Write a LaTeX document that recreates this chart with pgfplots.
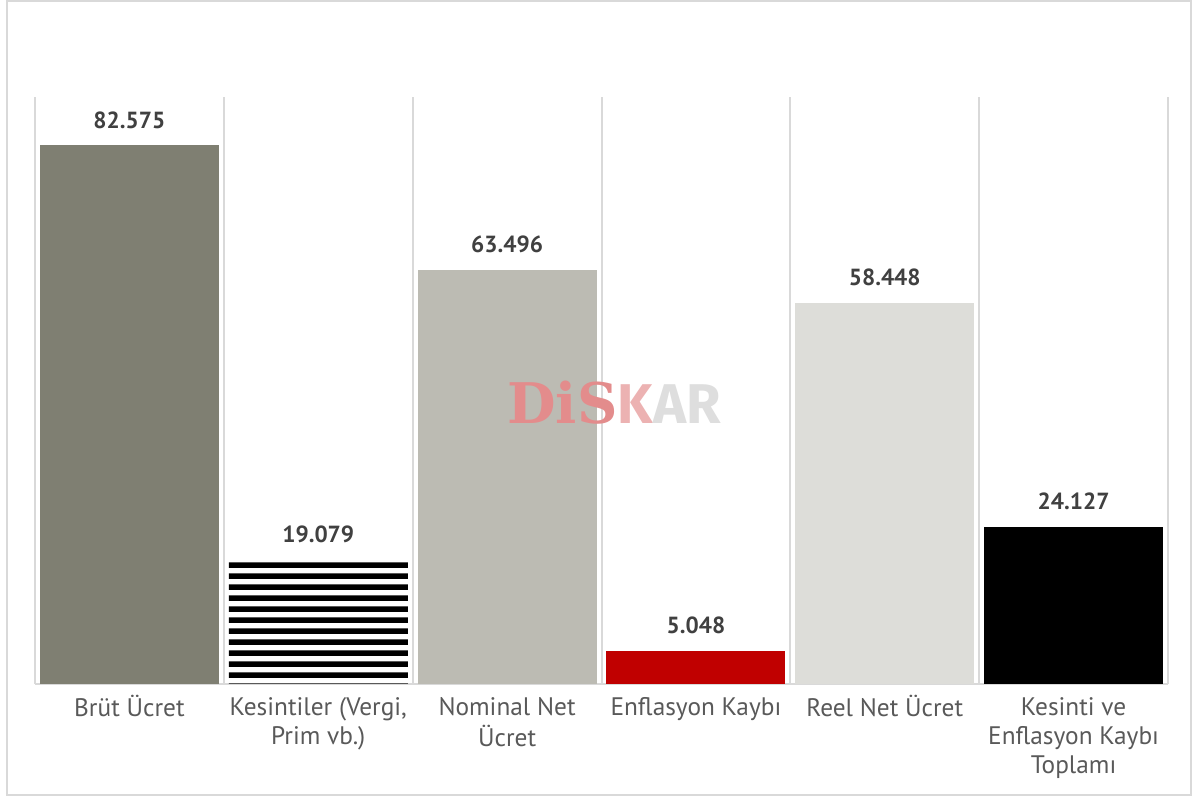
\documentclass[border=0pt]{standalone}
\usepackage{fontspec}
\setmainfont{PT Sans}
\newfontfamily\wmserif{DejaVu Serif}
\newfontfamily\wmsans{Fira Sans}
\usepackage{pgfplots}
\pgfplotsset{compat=1.18}
\usetikzlibrary{patterns}
\pgfdeclarepatternformonly{hstripes}{\pgfqpoint{0pt}{0pt}}{\pgfqpoint{400pt}{8.25pt}}{\pgfqpoint{400pt}{8.25pt}}{%
  \pgfpathrectangle{\pgfqpoint{0pt}{0pt}}{\pgfqpoint{400pt}{4.5pt}}\pgfusepath{fill}}
\definecolor{cA}{HTML}{7F7F72}
\definecolor{cC}{HTML}{BCBBB3}
\definecolor{cD}{HTML}{C00000}
\definecolor{cE}{HTML}{DDDDD9}
\definecolor{gridc}{HTML}{D9D9D9}
\definecolor{lab}{HTML}{404040}
\definecolor{xl}{HTML}{595959}
\begin{document}
\begin{tikzpicture}
\useasboundingbox (-26.25pt,-86.25pt) rectangle (870.75pt,513pt);
\draw[gridc,line width=1.5pt] (-21pt,-83.25pt) rectangle (867pt,512.25pt);
\begin{axis}[
  at={(0pt,0pt)}, anchor=south west,
  scale only axis, width=849.75pt, height=440.25pt,
  xmin=-0.5, xmax=5.5, ymin=0, ymax=90,
  axis y line=none, axis x line=bottom,
  x axis line style={-, draw=gridc, line width=1.5pt},
  xtick={0,...,5},
  xticklabels={Brüt Ücret,{Kesintiler (Vergi,\\Prim vb.)},{Nominal Net\\Ücret},Enflasyon Kaybı,Reel Net Ücret,{Kesinti ve\\Enflasyon Kaybı\\Toplamı}},
  typeset ticklabels with strut,
  xticklabel style={align=center, font=\fontsize{19}{21.75}\selectfont, text=xl, anchor=north, inner sep=0pt, yshift=-8pt},
  minor xtick={-0.5,0.5,...,5.5},
  xminorgrids=true,
  minor grid style={draw=gridc, line width=1.5pt},
  major tick length=0pt, minor tick length=0pt,
  ybar, bar width=134.25pt,
  clip=false,
  nodes near coords, point meta=explicit symbolic,
  every node near coord/.append style={font=\fontsize{17.5}{21}\selectfont\bfseries, text=lab, anchor=south, inner sep=0pt, yshift=12.5pt},
]
\addplot[bar shift=0pt, fill=cA, draw=none] coordinates {(0,82.575) [82.575]};
\addplot[bar shift=0pt, draw=none, fill=white, postaction={pattern=hstripes, pattern color=black}] coordinates {(1,19.079) [19.079]};
\addplot[bar shift=0pt, fill=cC, draw=none] coordinates {(2,63.496) [63.496]};
\addplot[bar shift=0pt, fill=cD, draw=none] coordinates {(3,5.048) [5.048]};
\addplot[bar shift=0pt, fill=cE, draw=none] coordinates {(4,58.448) [58.448]};
\addplot[bar shift=0pt, fill=black, draw=none] coordinates {(5,24.127) [24.127]};
\node[font=\fontsize{42}{46}\selectfont\bfseries, inner sep=0pt] at (axis cs:2.566,43.2)
  {{\wmserif\color{cD!45}DiS}{\wmsans\color{cD!30}K}{\wmsans\color{black!13}AR}};
\end{axis}
\end{tikzpicture}
\end{document}
